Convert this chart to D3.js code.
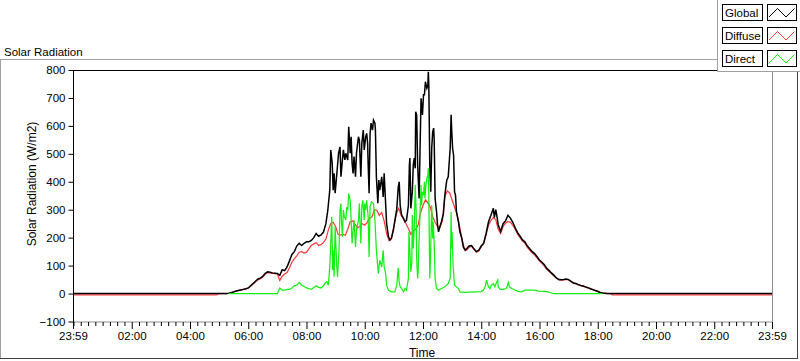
<!DOCTYPE html>
<html><head><meta charset="utf-8">
<script src="https://cdn.jsdelivr.net/npm/d3@7"></script>
<style>
body{margin:0;background:#fff}
svg{display:block}
text{font-family:"Liberation Sans",Arial,sans-serif;fill:#000}
</style>
</head><body>
<svg id="chart" width="800" height="361"></svg>
<script>
// ---------------- DATA ----------------
// Global radiation (W/m2)
const globalTimes = [
"00:00","05:00","05:15","05:20","05:25","05:30","05:35","05:40","05:45","05:50","05:55",
"06:00","06:05","06:10","06:15","06:20","06:25","06:30","06:35","06:40","06:45","06:50","06:55",
"07:00","07:05","07:10","07:15","07:20","07:25","07:30","07:35","07:40","07:45","07:50","07:55",
"08:00","08:05","08:10","08:15","08:20","08:25","08:30","08:35",
"08:40","08:44","08:48","08:50","08:53","08:55","08:57","08:59",
"09:02","09:06","09:09","09:11","09:14","09:16","09:19","09:21","09:25","09:27","09:30","09:32","09:34","09:36","09:38",
"09:41","09:43","09:47","09:49","09:50","09:52","09:54","09:57","09:59",
"10:02","10:04","10:06","10:07","10:09","10:11","10:13","10:16","10:18","10:21","10:22","10:24","10:27","10:29","10:31","10:35","10:38",
"10:40","10:43","10:45","10:49","10:52","10:55","10:59",
"11:02","11:06","11:09","11:11","11:13","11:16","11:20","11:23","11:26","11:30","11:32","11:33","11:35","11:38",
"11:40","11:42","11:44","11:45","11:47","11:49","11:52","11:54","11:56","11:59",
"12:01","12:03","12:05","12:08","12:10","12:11","12:12","12:14","12:16","12:18","12:20","12:22","12:23","12:25","12:28",
"12:30","12:32","12:35","12:38","12:42","12:45","12:49","12:52","12:56","12:58","12:59",
"13:01","13:03","13:05","13:07","13:09","13:13","13:16","13:20","13:23","13:27","13:30",
"13:35","13:40","13:45","13:50","13:55","14:00","14:05","14:10","14:15","14:20","14:25","14:27","14:30","14:33","14:35","14:40","14:45","14:50","14:55",
"15:00","15:05","15:10","15:15","15:20","15:25","15:30","15:35","15:40","15:45","15:50","15:55",
"16:00","16:05","16:10","16:15","16:20","16:25","16:30","16:35","16:40","16:45","16:50","16:55",
"17:00","17:05","17:10","17:15","17:20","17:25","17:30","17:35","17:40","17:45","17:50","17:55",
"18:00","18:05","18:10","18:15","18:20","23:59"
];
const globalValues = [
0,0,0,1,3,6,9,11,13,15,17,
20,28,36,44,52,55,62,72,78,76,74,73,
72,65,85,82,95,117,140,150,170,180,172,180,
185,185,190,200,215,205,210,220,
250,299,370,514,466,370,430,359,
418,502,525,418,478,514,478,502,478,597,502,561,466,430,490,
418,502,561,549,502,418,537,585,514,
561,573,537,466,359,573,610,585,621,610,585,418,323,406,370,418,346,
430,323,251,203,191,197,227,
260,302,380,400,316,281,269,257,262,316,460,485,305,364,
460,485,448,651,639,460,340,520,699,639,
711,711,758,735,746,794,746,460,364,520,579,592,555,340,292,
245,221,240,257,285,352,406,418,520,640,591,
520,496,364,352,292,257,221,197,167,155,160,
170,172,160,150,155,170,180,215,257,280,305,272,300,270,245,222,250,260,280,
270,255,235,218,205,192,185,170,160,150,143,132,
120,112,103,90,82,73,65,56,50,49,50,52,
50,44,38,36,32,29,27,24,21,17,14,11,
8,4,2,1,0,0
];

// Diffuse radiation (W/m2)
const diffuseTimes = [
"00:00","04:55","05:00","05:15","05:20","05:25","05:30","05:35","05:40","05:45","05:50","05:55",
"06:00","06:05","06:10","06:15","06:20","06:25","06:30","06:35","06:40","06:45","06:50","06:55",
"07:00","07:05","07:10","07:15","07:20","07:25","07:30","07:35","07:40","07:45","07:50","07:55",
"08:00","08:05","08:10","08:15","08:20","08:25","08:30","08:35","08:40","08:45","08:50","08:55",
"09:00","09:05","09:10","09:15","09:20","09:25","09:30","09:35","09:40","09:45","09:50","09:55",
"10:00","10:05","10:10","10:15","10:20","10:25","10:30","10:35","10:40","10:45","10:50","10:55",
"11:00","11:05","11:10","11:15","11:20","11:25","11:30","11:35","11:40","11:45","11:50","11:55",
"12:00","12:05","12:10","12:15","12:20","12:25","12:30","12:35","12:40","12:45","12:50","12:55",
"13:00","13:05","13:10","13:15","13:20","13:25","13:30","13:35","13:40","13:45","13:50","13:55",
"14:00","14:05","14:10","14:15","14:20","14:25","14:30","14:35","14:40","14:45","14:50","14:55",
"15:00","15:05","15:10","15:15","15:20","15:25","15:30","15:35","15:40","15:45","15:50","15:55",
"16:00","16:05","16:10","16:15","16:20","16:25","16:30","16:35","16:40","16:45","16:50","16:55",
"17:00","17:05","17:10","17:15","17:20","17:25","17:30","17:35","17:40","17:45","17:50","17:55",
"18:00","18:05","18:10","18:15","18:20","18:25","18:30","23:59"
];
const diffuseValues = [
-5,-5,0,0,1,3,6,9,11,13,15,17,
19,27,34,42,49,53,59,69,75,74,72,71,
70,47,62,70,75,92,112,125,135,148,150,145,
148,160,172,178,182,172,175,182,195,227,250,255,
240,212,209,212,209,230,257,260,248,235,240,250,
245,255,270,275,300,298,280,290,260,215,190,200,
240,285,305,280,265,250,233,212,225,230,245,290,
315,335,325,310,275,255,240,238,260,346,368,360,
335,310,285,245,197,162,155,165,170,158,148,152,
168,178,210,245,262,272,265,230,215,240,252,258,
255,245,230,212,200,188,180,165,155,145,138,128,
116,108,98,87,79,71,63,55,49,48,49,51,
49,43,37,35,31,28,26,23,20,17,14,10,
7,4,2,1,0,0,-5,-5
];

// Direct radiation (W/m2)
const directTimes = [
"05:20","07:00","07:05","07:10","07:15","07:20","07:25","07:30","07:35","07:40","07:45","07:50","07:55",
"08:00","08:05","08:10","08:15","08:20","08:25","08:30","08:35","08:38","08:42","08:45","08:48","08:50","08:52","08:54","08:55","08:57","08:59",
"09:01","09:02","09:04","09:07","09:09","09:11","09:12","09:14","09:16","09:18","09:21","09:23","09:25","09:27","09:30","09:32","09:33","09:34","09:36","09:38",
"09:41","09:43","09:47","09:49","09:50","09:52","09:54","09:56","09:59",
"10:00","10:02","10:04","10:07","10:09","10:11","10:14","10:18","10:21","10:24","10:28","10:31","10:35","10:38",
"10:40","10:43","10:45","10:49","10:55",
"11:02","11:06","11:09","11:11","11:13","11:16","11:20","11:23","11:26","11:30","11:31","11:33","11:35","11:37","11:38",
"11:40","11:42","11:44","11:46","11:47","11:49","11:50","11:52","11:54","11:56","11:57","11:59",
"12:01","12:03","12:04","12:06","12:08","12:10","12:11","12:12","12:14","12:16","12:18","12:20","12:21","12:23","12:25","12:28",
"12:32","12:38","12:45","12:49","12:52","12:56","12:58","12:59",
"13:00","13:02","13:05","13:09","13:13","13:16","13:27","13:35","13:50",
"14:00","14:04","14:08","14:11","14:15","14:18","14:21","14:25","14:28","14:32","14:34","14:35","14:39","14:45","14:52","14:56","14:58",
"15:03","15:10","15:16","15:23","15:30","15:40","15:50","15:58",
"16:10","16:18","16:25","16:30","18:10"
];
const directValues = [
0,0,20,12,12,15,15,20,28,30,40,30,25,
20,18,15,22,28,22,20,28,36,43,30,95,180,275,84,155,60,239,
155,108,60,155,299,322,263,203,299,275,263,310,299,358,334,263,215,179,227,263,
167,227,263,322,263,179,310,334,263,
322,299,334,275,131,310,328,322,263,155,72,119,95,155,
95,72,30,12,6,
6,30,92,42,24,18,6,18,12,54,221,149,78,113,281,
161,233,388,292,125,54,78,197,292,388,316,364,
352,400,340,388,412,424,448,340,54,161,316,197,257,185,54,18,
12,18,24,30,36,54,292,161,
221,101,30,24,18,6,4,5,6,
7,12,24,48,24,18,30,36,24,42,48,24,15,15,18,40,24,
18,12,8,6,12,12,12,9,
8,6,2,0,0
];

const yTicks = [-100,0,100,200,300,400,500,600,700,800];
const xTickLabels = ["23:59","02:00","04:00","06:00","08:00","10:00","12:00","14:00","16:00","18:00","20:00","22:00","23:59"];
const seriesNames = ["Global","Diffuse","Direct"];
const seriesColors = ["#000000","#ff3b3b","#14f014"];
const chartTitle = "Solar Radiation";
const yTitle = "Solar Radiation (W/m2)";
const xTitle = "Time";

// ---------------- CHART ----------------
const svg = d3.select("#chart");
const L = 73, R = 772, T = 70, B = 321.5;

const parseT = s => { const [h,m] = s.split(":").map(Number); return new Date(2000,0,2,h,m); };
const start = new Date(2000,0,1,23,59), end = new Date(2000,0,2,23,59);
const x = d3.scaleTime().domain([start,end]).range([L,R]);
const y = d3.scaleLinear().domain([-100,800]).range([B,T]);

// outer frame
svg.append("line").attr("x1",0).attr("x2",717).attr("y1",59.5).attr("y2",59.5).attr("stroke","#a0a0a0");
svg.append("line").attr("x1",0.5).attr("x2",0.5).attr("y1",59.5).attr("y2",359).attr("stroke","#a0a0a0");
svg.append("line").attr("x1",0).attr("x2",798).attr("y1",358.5).attr("y2",358.5).attr("stroke","#404040");
svg.append("line").attr("x1",797.5).attr("x2",797.5).attr("y1",72).attr("y2",359).attr("stroke","#404040");

// title
svg.append("text").attr("x",4).attr("y",55.5).attr("font-size",11.5).text(chartTitle);

// plot area
svg.append("rect").attr("x",L).attr("y",T).attr("width",R-L).attr("height",B-T).attr("fill","#fff");
svg.append("line").attr("x1",R+0.5).attr("x2",R+0.5).attr("y1",T).attr("y2",B).attr("stroke","#8c8c8c");
svg.append("line").attr("x1",L).attr("x2",R+1).attr("y1",B+0.5).attr("y2",B+0.5).attr("stroke","#8c8c8c");
svg.append("line").attr("x1",L).attr("x2",R+1).attr("y1",T+0.5).attr("y2",T+0.5).attr("stroke","#000");

svg.append("clipPath").attr("id","clip").append("rect").attr("x",L).attr("y",T).attr("width",R-L+1).attr("height",B-T);

function drawSeries(ts, vals, color, w){
  const data = ts.map((t,i)=>({t: parseT(t), v: vals[i]}));
  const line = d3.line().x(d=>x(d.t)).y(d=>y(d.v));
  svg.append("path").attr("clip-path","url(#clip)").attr("d",line(data)).attr("fill","none")
     .attr("stroke",color).attr("stroke-width",w).attr("stroke-linejoin","miter");
}
drawSeries(diffuseTimes, diffuseValues, seriesColors[1], 1.25);
drawSeries(globalTimes, globalValues, seriesColors[0], 1.5);
drawSeries(directTimes, directValues, seriesColors[2], 1.25);

// y axis
const yAxis = d3.axisLeft(y).tickValues(yTicks).tickSize(5).tickPadding(3).tickFormat(d3.format("d"));
const gy = svg.append("g").attr("transform",`translate(${L+0.5},0)`).call(yAxis);
gy.select(".domain").attr("d",`M0,${T}V${B+1}`).attr("stroke","#000");
gy.selectAll("text").attr("font-size",11.5).attr("font-family","Liberation Sans, Arial, sans-serif").attr("fill","#000");
gy.selectAll("line").attr("stroke","#000");

// x axis
const majorTimes = xTickLabels.map((s,i)=> i===0 ? start : (i===xTickLabels.length-1 ? end : parseT(s)));
const minorTimes = d3.timeMinute.every(15).range(start,end).filter(t=>!majorTimes.some(m=>Math.abs(m-t)<60000));
const gxm = svg.append("g").attr("transform",`translate(0,${B+0.5})`)
  .call(d3.axisBottom(x).tickValues(minorTimes).tickSize(4).tickFormat(""));
gxm.select(".domain").remove();
gxm.selectAll("line").attr("stroke","#000");
const gx = svg.append("g").attr("transform",`translate(0,${B+0.5})`)
  .call(d3.axisBottom(x).tickValues(majorTimes).tickSize(7).tickPadding(3).tickFormat((d,i)=>xTickLabels[i]));
gx.select(".domain").remove();
gx.selectAll("line").attr("stroke","#000");
gx.selectAll("text").attr("font-size",11.5).attr("font-family","Liberation Sans, Arial, sans-serif").attr("fill","#000");

// axis titles
svg.append("text").attr("transform","translate(36,184) rotate(-90)").attr("text-anchor","middle")
  .attr("font-size",12).text(yTitle);
svg.append("text").attr("x",422).attr("y",357).attr("text-anchor","middle").attr("font-size",12).text(xTitle);

// legend panel
svg.append("rect").attr("x",717).attr("y",0).attr("width",83).attr("height",72).attr("fill","#fff");
svg.append("line").attr("x1",717.5).attr("x2",717.5).attr("y1",0).attr("y2",72).attr("stroke","#a0a0a0");
svg.append("line").attr("x1",717).attr("x2",800).attr("y1",71.5).attr("y2",71.5).attr("stroke","#a0a0a0");
const legendY = [4,27,50];
seriesNames.forEach((name,i)=>{
  const y0 = legendY[i];
  svg.append("rect").attr("x",722.5).attr("y",y0+0.5).attr("width",40).attr("height",16).attr("fill","#fff").attr("stroke","#000");
  svg.append("text").attr("x",725).attr("y",y0+13).attr("font-size",11.5).text(name);
  svg.append("rect").attr("x",767.5).attr("y",y0+0.5).attr("width",29).attr("height",16).attr("fill","#fff").attr("stroke","#000");
  svg.append("polyline").attr("points",[[769,y0+13],[777.5,y0+4.5],[786,y0+13],[794.5,y0+4.5]].map(p=>p.join(",")).join(" "))
    .attr("fill","none").attr("stroke",seriesColors[i]).attr("stroke-width",1);
});
</script>
</body></html>
